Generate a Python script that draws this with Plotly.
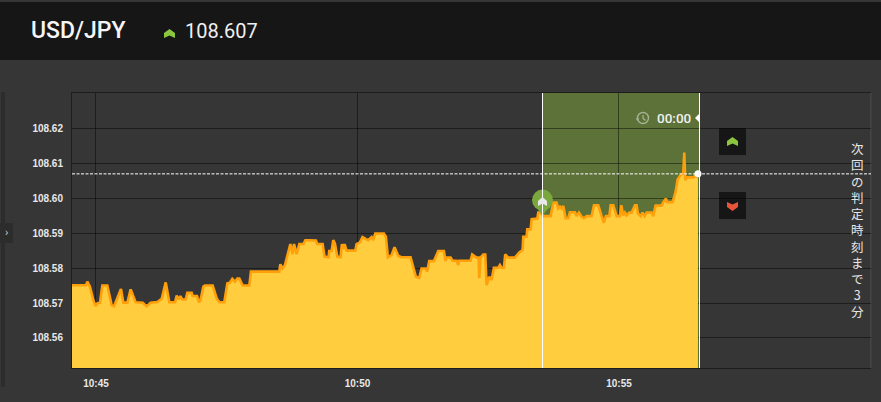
import pandas as pd
import plotly.graph_objects as go

seconds = [-28, -11.4, -9.9, -6.9, -3, -0.4, 1.6, 4.6, 7.3, 13, 18, 20.7, 28.7, 31.4, 36, 39.8, 45.5, 53.6, 58.2, 62.7,
           70.4, 75.4, 80, 84.2, 90.7, 92.6, 94.9, 96.8, 99.1, 102.9, 104.8, 109.8, 110.9, 115.9, 118.2, 120.1, 123.2,
           125, 133.9, 138.5, 141.5, 147.2, 150.7, 153.8, 156.4, 159.5, 162.2, 164.5, 168.3, 175.9, 177.8, 210.3,
           211.5, 213.8, 216.8, 219.5, 223, 225.6, 227.2, 230.2, 233.3, 237.9, 240.2, 243.6,
           248.5, 252.3, 253.8, 260, 262.2, 264.5, 266.8, 267.6, 270.3, 272.2, 274.1, 276.8, 280.6, 282.1, 283.7,
           285.2, 287.5, 297.4, 299, 302.8, 305.8, 309.7, 312.3, 316.2, 318.1, 320.4, 330.3, 332.6, 334.9, 339.1,
           342.5, 346.8, 350.6, 360.9, 364, 367, 370.8, 373.5, 378.1, 380, 382.3, 387.7, 392.6, 399.1, 401, 402.2,
           406.8, 409.1, 413.7, 415.6, 416.7, 429.7, 431.6, 436.6, 438.9, 439.7, 441.2, 444.3, 446.6, 448.1, 451.1,
           453.8, 456.5, 461.5, 463.4, 465.3, 468, 469.5, 473, 480.6, 485.6,
           489.4, 490.2, 494, 494.8, 498.6, 499.8, 506.3, 507.4, 510.1, 513.1, 521.6, 524.6, 528.4, 530.3, 532.3,
           534.2, 536.1, 538.8, 541.8, 543.7, 549.5, 551.4, 554.1, 557.1, 559.8, 562.9, 568.6, 571.3, 576.2, 580.1,
           582.7, 585, 588.9, 590.4, 593.4, 597.3, 601.1, 602.6, 604.9, 606.8, 608.7, 611.8, 614.5, 618.3, 620.2,
           621.7, 624.8, 627, 629.4, 631.7, 637.4, 639.3, 642, 648.9, 650.8, 653.9, 655.4, 661.5, 665, 667.2, 670.7,
           673.7, 674.9, 676, 677.6, 685.2, 687.1, 690.6]
prices = [108.5751, 108.5751, 108.5761, 108.5747, 108.5708, 108.5691, 108.5699, 108.5701, 108.5750, 108.5750, 108.5694,
          108.5691, 108.5740, 108.5701, 108.5701, 108.5739, 108.5702, 108.5701, 108.5691, 108.5701,
          108.5703, 108.5712, 108.5759, 108.5702, 108.5702, 108.5721, 108.5710, 108.5720, 108.5710, 108.5710,
          108.5729, 108.5729, 108.5720, 108.5720, 108.5702, 108.5710, 108.5747,
          108.5750, 108.5750, 108.5713, 108.5702, 108.5702, 108.5756, 108.5759, 108.5769, 108.5761, 108.5770,
          108.5770, 108.5750, 108.5750, 108.5790, 108.5790,
          108.5811, 108.5799, 108.5809, 108.5837, 108.5869, 108.5840, 108.5869, 108.5840, 108.5869, 108.5869,
          108.5880, 108.5880,
          108.5879, 108.5879, 108.5869, 108.5869, 108.5833, 108.5833, 108.5831, 108.5849, 108.5849, 108.5880,
          108.5871, 108.5833, 108.5831, 108.5869, 108.5854,
          108.5869, 108.5850, 108.5850, 108.5869, 108.5874, 108.5889, 108.5883, 108.5880, 108.5889, 108.5880,
          108.5899, 108.5899, 108.5890, 108.5831, 108.5837,
          108.5860, 108.5835, 108.5831, 108.5831, 108.5804, 108.5775, 108.5772, 108.5799, 108.5799, 108.5790,
          108.5820, 108.5820, 108.5849, 108.5849, 108.5820, 108.5830,
          108.5830, 108.5821, 108.5821, 108.5809, 108.5821, 108.5821, 108.5839, 108.5830, 108.5830, 108.5771,
          108.5830, 108.5839, 108.5839, 108.5751, 108.5775,
          108.5766, 108.5801, 108.5801, 108.5809, 108.5801, 108.5801, 108.5839, 108.5830, 108.5830, 108.5845,
          108.5852, 108.5890, 108.5890, 108.5911, 108.5911, 108.5940, 108.5942, 108.5959, 108.5959, 108.5949,
          108.5949, 108.5988, 108.5988, 108.5971, 108.5976,
          108.5971, 108.5978, 108.5943, 108.5943, 108.5960, 108.5960, 108.5949, 108.5959, 108.5947, 108.5943,
          108.5949, 108.5949, 108.5980, 108.5980, 108.5949,
          108.5930, 108.5949, 108.5949, 108.5980, 108.5980, 108.5949, 108.5949, 108.5980, 108.5951, 108.5959,
          108.5951, 108.5959, 108.5959, 108.5980, 108.5980,
          108.5957, 108.5949, 108.5959, 108.5949, 108.5959, 108.5959, 108.5949, 108.5979, 108.5979, 108.5989,
          108.5999, 108.5989, 108.5989, 108.6019, 108.6054, 108.6067,
          108.6071, 108.6131, 108.6052, 108.6060, 108.6060, 108.6064, 108.6060]

y_ticks = [108.56, 108.57, 108.58, 108.59, 108.60, 108.61, 108.62]
y_labels = ["108.56", "108.57", "108.58", "108.59", "108.60", "108.61", "108.62"]
x_labels = ["10:45", "10:50", "10:55"]
current_price = 108.607
entry_second = 512.25
entry_price = 108.5995
end_second = 692.36
last_second = 690.6

base = pd.Timestamp("2019-06-03 10:45:00")


def stamp(sec):
    return base + pd.to_timedelta(sec, unit="s")


times = [stamp(s) for s in seconds]
x_ticks = [pd.Timestamp(f"2019-06-03 {t}:00") for t in x_labels]

# plot area in page pixels, the header and the buttons sit outside of it
L, R, T, B = 72, 871, 93, 368
W, H = 881, 402


def px(x, y):
    return (x - L) / (R - L), (B - y) / (B - T)


def poly(points, color):
    pts = [px(*p) for p in points]
    path = "M " + " L ".join(f"{a:.5f},{b:.5f}" for a, b in pts) + " Z"
    return dict(type="path", xref="paper", yref="paper", path=path, fillcolor=color, line=dict(width=0), layer="above")


def rect(x0, y0, x1, y1, color, layer="below"):
    a, b = px(x0, y0)
    c, d = px(x1, y1)
    return dict(type="rect", xref="paper", yref="paper", x0=a, y0=b, x1=c, y1=d, fillcolor=color,
                line=dict(width=0), layer=layer)


def chevron_up(cx, top, w, color):
    return poly([(cx - w, top + 4), (cx, top), (cx + w, top + 4), (cx + w, top + 9), (cx, top + 6.5), (cx - w, top + 9)], color)


def chevron_down(cx, top, w, color):
    return poly([(cx - w, top), (cx, top + 2.5), (cx + w, top), (cx + w, top + 5), (cx, top + 9), (cx - w, top + 5)], color)


def label(x, y, text, size, color="#f0f0f0", family="Roboto", anchor="left", weight=None):
    a, b = px(x, y)
    return dict(xref="paper", yref="paper", x=a, y=b, text=text, showarrow=False, xanchor=anchor, yanchor="middle",
                align="center", font=dict(size=size, color=color, family=family, weight=weight))


fig = go.Figure()
fig.add_trace(go.Scatter(x=times, y=prices, mode="lines", line=dict(color="#ff9f0a", width=2.6), fill="tozeroy",
                         fillgradient=dict(type="vertical", colorscale=[[0, "#ffc636"], [1, "#ffcd3e"]]),
                         hoverinfo="skip"))
# entry pin
fig.add_trace(go.Scatter(x=[stamp(entry_second)], y=[entry_price - 0.0026], mode="markers", hoverinfo="skip",
                         marker=dict(symbol="triangle-down", size=13, color="#7aa83f")))
fig.add_trace(go.Scatter(x=[stamp(entry_second)], y=[entry_price], mode="markers", hoverinfo="skip",
                         marker=dict(symbol="circle", size=21, color="#7aa83f")))
fig.add_trace(go.Scatter(x=[stamp(last_second)], y=[current_price], mode="markers", hoverinfo="skip",
                         marker=dict(symbol="circle", size=7, color="white")))

shapes = [
    rect(0, 2, W, 60, "#161616"),
    rect(1, 92, 5, 387, "#2c2c2c"),
    rect(0, 223, 13, 243, "#2c2c2c"),
    rect(870, 93, 871.5, 368, "#454545"),
    rect(719, 128, 746, 155, "#161616"),
    rect(719, 192, 746, 219, "#161616"),
    dict(type="rect", xref="x", yref="paper", x0=stamp(entry_second), x1=stamp(end_second), y0=0, y1=1,
         fillcolor="rgba(149,206,61,0.4)", line=dict(width=0), layer="below"),
    dict(type="line", xref="x", yref="paper", x0=stamp(entry_second), x1=stamp(entry_second), y0=0, y1=1,
         line=dict(color="white", width=1), layer="above"),
    dict(type="line", xref="x", yref="paper", x0=stamp(end_second), x1=stamp(end_second), y0=0, y1=1,
         line=dict(color="white", width=1), layer="above"),
    dict(type="line", xref="paper", yref="y", x0=0, x1=1, y0=current_price, y1=current_price,
         line=dict(color="white", width=1, dash="3px,1.5px"), layer="above"),
    chevron_up(169.5, 29, 5.5, "#8cc63f"),
    chevron_up(732.5, 137, 5.5, "#8cc63f"),
    chevron_down(732.5, 202, 5.5, "#e8543a"),
    chevron_up(542.5, 197, 4.5, "#e8e8e8"),
    poly([(695, 118), (699, 114), (699, 122)], "white"),
]
# clock icon, a ring with a small arrow notch on its left
a0, b0 = px(637.5, 123.5)
a1, b1 = px(648.5, 112.5)
shapes.append(dict(type="circle", xref="paper", yref="paper", x0=a0, y0=b0, x1=a1, y1=b1,
                   line=dict(color="#a5b295", width=1.4), layer="above"))
shapes.append(poly([(635.5, 118.5), (639.5, 118.5), (637.5, 121)], "#a5b295"))
shapes.append(poly([(642.5, 115), (643.7, 115), (643.7, 118), (646, 120), (645.2, 121), (642.5, 118.7)], "#a5b295"))

annotations = [
    label(28.5, 30, "USD/JPY", 23, color="#f5f5f5", weight=500),
    label(183, 31, "108.607", 20),
    label(655, 118, "00:00", 13.5, weight=500),
    label(6, 233, "›", 11, color="#cccccc", anchor="center"),
    label(857, 230, "<br>".join("次回の判定時刻まで3分"), 12.5, color="#e6e6e6", family="Noto Sans CJK JP", anchor="center"),
]

fig.update_layout(
    width=W, height=H, autosize=False,
    margin=dict(l=L, r=W - R, t=T, b=H - B),
    paper_bgcolor="#363636", plot_bgcolor="#363636",
    showlegend=False, shapes=shapes, annotations=annotations,
    hovermode=False,
)
grid = "rgba(0,0,0,0.45)"
tick_font = dict(size=10, color="#e8e8e8", family="Liberation Sans", weight="bold")
fig.update_xaxes(range=[stamp(-27.5), stamp(889.1)], tickvals=x_ticks, ticktext=x_labels, showgrid=True,
                 gridcolor=grid, gridwidth=1, zeroline=False, showline=True, linecolor=grid, mirror=True,
                 tickfont=tick_font, ticks="", ticklabelstandoff=6)
fig.update_yaxes(range=[108.55138, 108.63017], tickvals=y_ticks, ticktext=y_labels, showgrid=True,
                 gridcolor=grid, gridwidth=1, zeroline=False, showline=True, linecolor=grid,
                 tickfont=tick_font, ticks="", ticklabelstandoff=6)

fig.write_html("out.html", config=dict(displayModeBar=False),
               post_script="document.body.style.margin='0';document.body.style.background='#363636';")
